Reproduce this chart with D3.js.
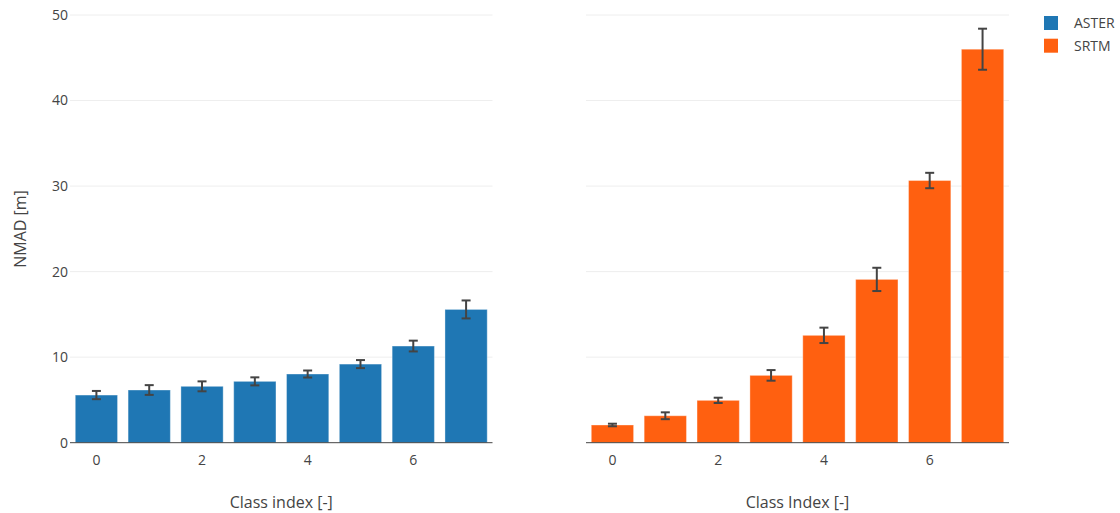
<!DOCTYPE html>
<html>
<head>
<meta charset="utf-8">
<script src="https://cdn.jsdelivr.net/npm/d3@7/dist/d3.min.js"></script>
<style>
  html, body { margin: 0; padding: 0; background: #fff; }
  svg { display: block; font-family: "Open Sans", sans-serif; }
</style>
</head>
<body>
<svg id="chart" width="1120" height="513"></svg>
<script>
const categories = [0, 1, 2, 3, 4, 5, 6, 7];
const asterValues = [5.57, 6.16, 6.59, 7.17, 8.03, 9.19, 11.3, 15.58];
const asterErrors = [0.48, 0.57, 0.58, 0.47, 0.41, 0.47, 0.63, 1.05];
const srtmValues = [2.07, 3.15, 4.95, 7.87, 12.55, 19.09, 30.65, 46.0];
const srtmErrors = [0.15, 0.4, 0.31, 0.62, 0.9, 1.36, 0.9, 2.4];
const yTicks = [0, 10, 20, 30, 40, 50];
const xTicks = [0, 2, 4, 6];
const seriesNames = ["ASTER", "SRTM"];
const seriesColors = ["#1f77b4", "#ff6010"];
const xTitles = ["Class index [-]", "Class Index [-]"];
const yTitle = "NMAD [m]";

const svg = d3.select("#chart");
const y = d3.scaleLinear().domain([0, 50]).range([442.7, 15]);

const panels = [
  { x0: 70, x1: 492.5, values: asterValues, errors: asterErrors, color: seriesColors[0], title: xTitles[0], showY: true },
  { x0: 586, x1: 1009, values: srtmValues, errors: srtmErrors, color: seriesColors[1], title: xTitles[1], showY: false }
];

panels.forEach(p => {
  const x = d3.scaleBand().domain(categories).range([p.x0, p.x1]).paddingInner(0.2).paddingOuter(0.1);
  const g = svg.append("g");

  // grid
  g.selectAll("line.grid").data(yTicks.filter(t => t > 0)).join("line")
    .attr("x1", p.x0).attr("x2", p.x1)
    .attr("y1", d => y(d)).attr("y2", d => y(d))
    .attr("stroke", "#eee").attr("stroke-width", 1);

  // y tick labels
  if (p.showY) {
    g.selectAll("text.ytick").data(yTicks).join("text")
      .attr("x", p.x0 - 2).attr("y", d => y(d))
      .attr("dy", "0.35em")
      .attr("text-anchor", "end")
      .attr("font-size", 14).attr("fill", "#444")
      .text(d => d);
  }

  // bars
  g.selectAll("rect.bar").data(categories).join("rect")
    .attr("x", d => x(d)).attr("width", x.bandwidth())
    .attr("y", (d, i) => y(p.values[i]))
    .attr("height", (d, i) => y(0) - y(p.values[i]))
    .attr("fill", p.color)
    .attr("stroke", "rgba(255,255,255,0.35)").attr("stroke-width", 1);

  // error bars
  const eb = g.selectAll("g.err").data(categories).join("g").attr("stroke", "#444").attr("stroke-width", 2);
  const cx = d => x(d) + x.bandwidth() / 2;
  eb.append("line")
    .attr("x1", cx).attr("x2", cx)
    .attr("y1", (d, i) => y(p.values[i] + p.errors[i]))
    .attr("y2", (d, i) => y(p.values[i] - p.errors[i]));
  eb.append("line")
    .attr("x1", d => cx(d) - 4.5).attr("x2", d => cx(d) + 4.5)
    .attr("y1", (d, i) => y(p.values[i] + p.errors[i]))
    .attr("y2", (d, i) => y(p.values[i] + p.errors[i]));
  eb.append("line")
    .attr("x1", d => cx(d) - 4.5).attr("x2", d => cx(d) + 4.5)
    .attr("y1", (d, i) => y(p.values[i] - p.errors[i]))
    .attr("y2", (d, i) => y(p.values[i] - p.errors[i]));

  // zero line
  g.append("line")
    .attr("x1", p.x0).attr("x2", p.x1)
    .attr("y1", y(0)).attr("y2", y(0))
    .attr("stroke", "#444").attr("stroke-width", 1);

  // x tick labels
  g.selectAll("text.xtick").data(xTicks).join("text")
    .attr("x", d => x(d) + x.bandwidth() / 2).attr("y", 460)
    .attr("dy", "0.35em")
    .attr("text-anchor", "middle")
    .attr("font-size", 14).attr("fill", "#444")
    .text(d => d);

  // x title
  g.append("text")
    .attr("x", (p.x0 + p.x1) / 2).attr("y", 502)
    .attr("dy", "0.35em")
    .attr("text-anchor", "middle")
    .attr("font-size", 16).attr("fill", "#444")
    .text(p.title);
});

// y title
svg.append("text")
  .attr("transform", "translate(20,229) rotate(-90)")
  .attr("dy", "0.35em")
  .attr("text-anchor", "middle")
  .attr("font-size", 16).attr("fill", "#444")
  .text(yTitle);

// legend
const lg = svg.append("g");
seriesNames.forEach((n, i) => {
  lg.append("rect")
    .attr("x", 1044).attr("y", 16 + i * 22.7)
    .attr("width", 14).attr("height", 14)
    .attr("fill", seriesColors[i]);
  lg.append("text")
    .attr("x", 1074).attr("y", 23 + i * 22.7)
    .attr("dy", "0.35em")
    .attr("font-size", 14).attr("fill", "#444")
    .text(n);
});
</script>
</body>
</html>
